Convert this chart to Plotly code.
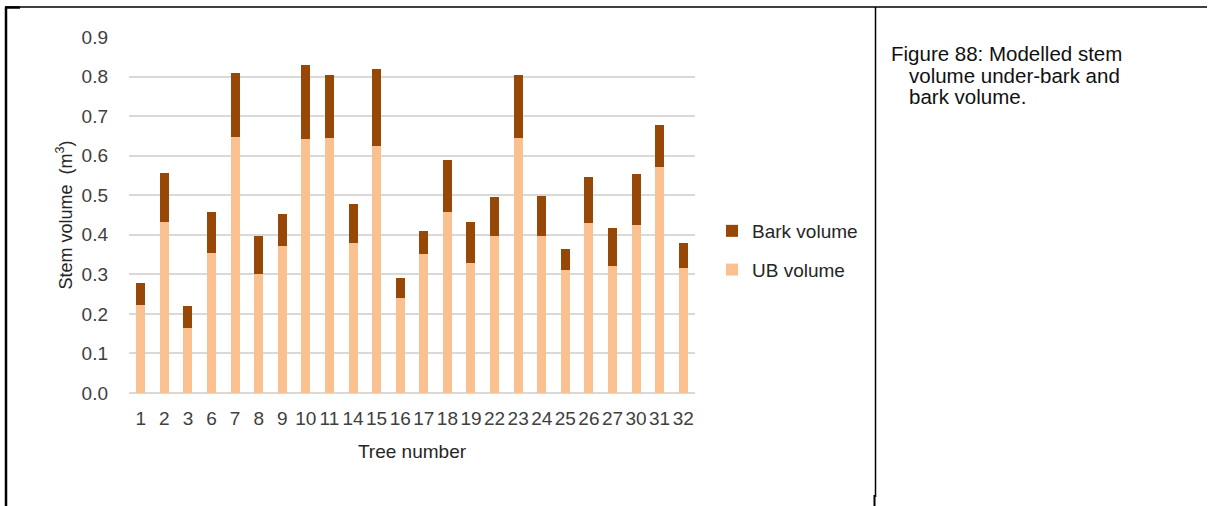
import plotly.graph_objects as go

# ---- data ----
trees = ["1", "2", "3", "6", "7", "8", "9", "10", "11", "14", "15", "16",
         "17", "18", "19", "22", "23", "24", "25", "26", "27", "30", "31", "32"]
ub_volume = [0.222, 0.433, 0.164, 0.355, 0.647, 0.300, 0.371, 0.641, 0.644, 0.378, 0.625, 0.239,
             0.352, 0.458, 0.329, 0.397, 0.644, 0.397, 0.310, 0.430, 0.322, 0.424, 0.572, 0.316]
total_volume = [0.277, 0.555, 0.219, 0.458, 0.809, 0.397, 0.452, 0.828, 0.805, 0.478, 0.819, 0.290,
                0.409, 0.588, 0.432, 0.495, 0.805, 0.498, 0.365, 0.545, 0.416, 0.553, 0.678, 0.378]
bark_volume = [round(t - u, 3) for t, u in zip(total_volume, ub_volume)]
y_ticks = [0.0, 0.1, 0.2, 0.3, 0.4, 0.5, 0.6, 0.7, 0.8, 0.9]
caption_lines = ["Figure 88: Modelled stem", "volume under-bark and", "bark volume."]

# ---- layout geometry (pixels) ----
W, H = 1208, 506
PL, PR, PT, PB = 129, 695, 37, 393


def px(x):
    return (x - PL) / (PR - PL)


def py(y):
    return (PB - y) / (PB - PT)


FAMILY = "Liberation Sans Narrow, Arial Narrow, Liberation Sans, Arial"
TICK_FONT = dict(family=FAMILY, size=19, color="#404040")

fig = go.Figure()
fig.add_trace(go.Bar(x=trees, y=ub_volume, name="UB volume", marker_color="#FAC090",
                     marker_line_width=0, legendgroup="ub", legendrank=2))
fig.add_trace(go.Bar(x=trees, y=bark_volume, name="Bark volume", marker_color="#974806",
                     marker_line_width=0, legendgroup="bark", legendrank=1))

fig.update_layout(
    width=W, height=H,
    barmode="stack", bargap=0.62,
    plot_bgcolor="white", paper_bgcolor="white",
    margin=dict(l=PL, r=W - PR, t=PT, b=H - PB, pad=0),
    font=TICK_FONT,
    showlegend=True,
    legend=dict(x=px(712), y=py(212), xanchor="left", yanchor="top",
                traceorder="grouped", tracegroupgap=11,
                font=dict(family=FAMILY, size=19, color="#262626"),
                bgcolor="rgba(0,0,0,0)", itemwidth=30),
)
fig.update_xaxes(showgrid=False, showline=False, ticks="", ticklabelstandoff=12,
                 tickfont=TICK_FONT,
                 title=dict(text="Tree number", standoff=16,
                            font=dict(family=FAMILY, size=19, color="#262626")))
fig.update_yaxes(range=[0, 0.9], tickvals=y_ticks, tickformat=".1f",
                 showgrid=True, gridcolor="#D9D9D9", gridwidth=1.5,
                 zeroline=True, zerolinecolor="#D9D9D9", zerolinewidth=1.5,
                 showline=False, ticks="", ticklabelstandoff=20, tickfont=TICK_FONT,
                 title=dict(text="Stem volume  (m<sup>3</sup>)", standoff=4,
                            font=dict(family=FAMILY, size=18, color="#262626")))

# caption (hanging indent)
cap_font = dict(family="Liberation Sans, Arial", size=20.5, color="#111111")
for text, x0, y0 in zip(caption_lines, [890, 908, 908], [53, 75, 97]):
    fig.add_annotation(text=text, xref="paper", yref="paper", x=px(x0), y=py(y0),
                       xanchor="left", yanchor="middle", showarrow=False, font=cap_font,
                       borderpad=0)

# table borders
fig.add_shape(type="line", xref="paper", yref="paper", x0=px(5), x1=px(1207), y0=py(7), y1=py(7),
              line=dict(color="black", width=1.5))
fig.add_shape(type="line", xref="paper", yref="paper", x0=px(5), x1=px(20), y0=py(7.5), y1=py(7.5),
              line=dict(color="black", width=2.5))
fig.add_shape(type="line", xref="paper", yref="paper", x0=px(6), x1=px(6), y0=py(7), y1=py(506),
              line=dict(color="black", width=2.5))
fig.add_shape(type="line", xref="paper", yref="paper", x0=px(875.5), x1=px(875.5), y0=py(7), y1=py(497),
              line=dict(color="black", width=1.5))
fig.add_shape(type="line", xref="paper", yref="paper", x0=px(874.5), x1=px(874.5), y0=py(495), y1=py(506),
              line=dict(color="black", width=2))

fig.write_html("out.html", config={"displayModeBar": False},
               post_script="document.body.style.margin='0';document.body.style.overflow='hidden';")
